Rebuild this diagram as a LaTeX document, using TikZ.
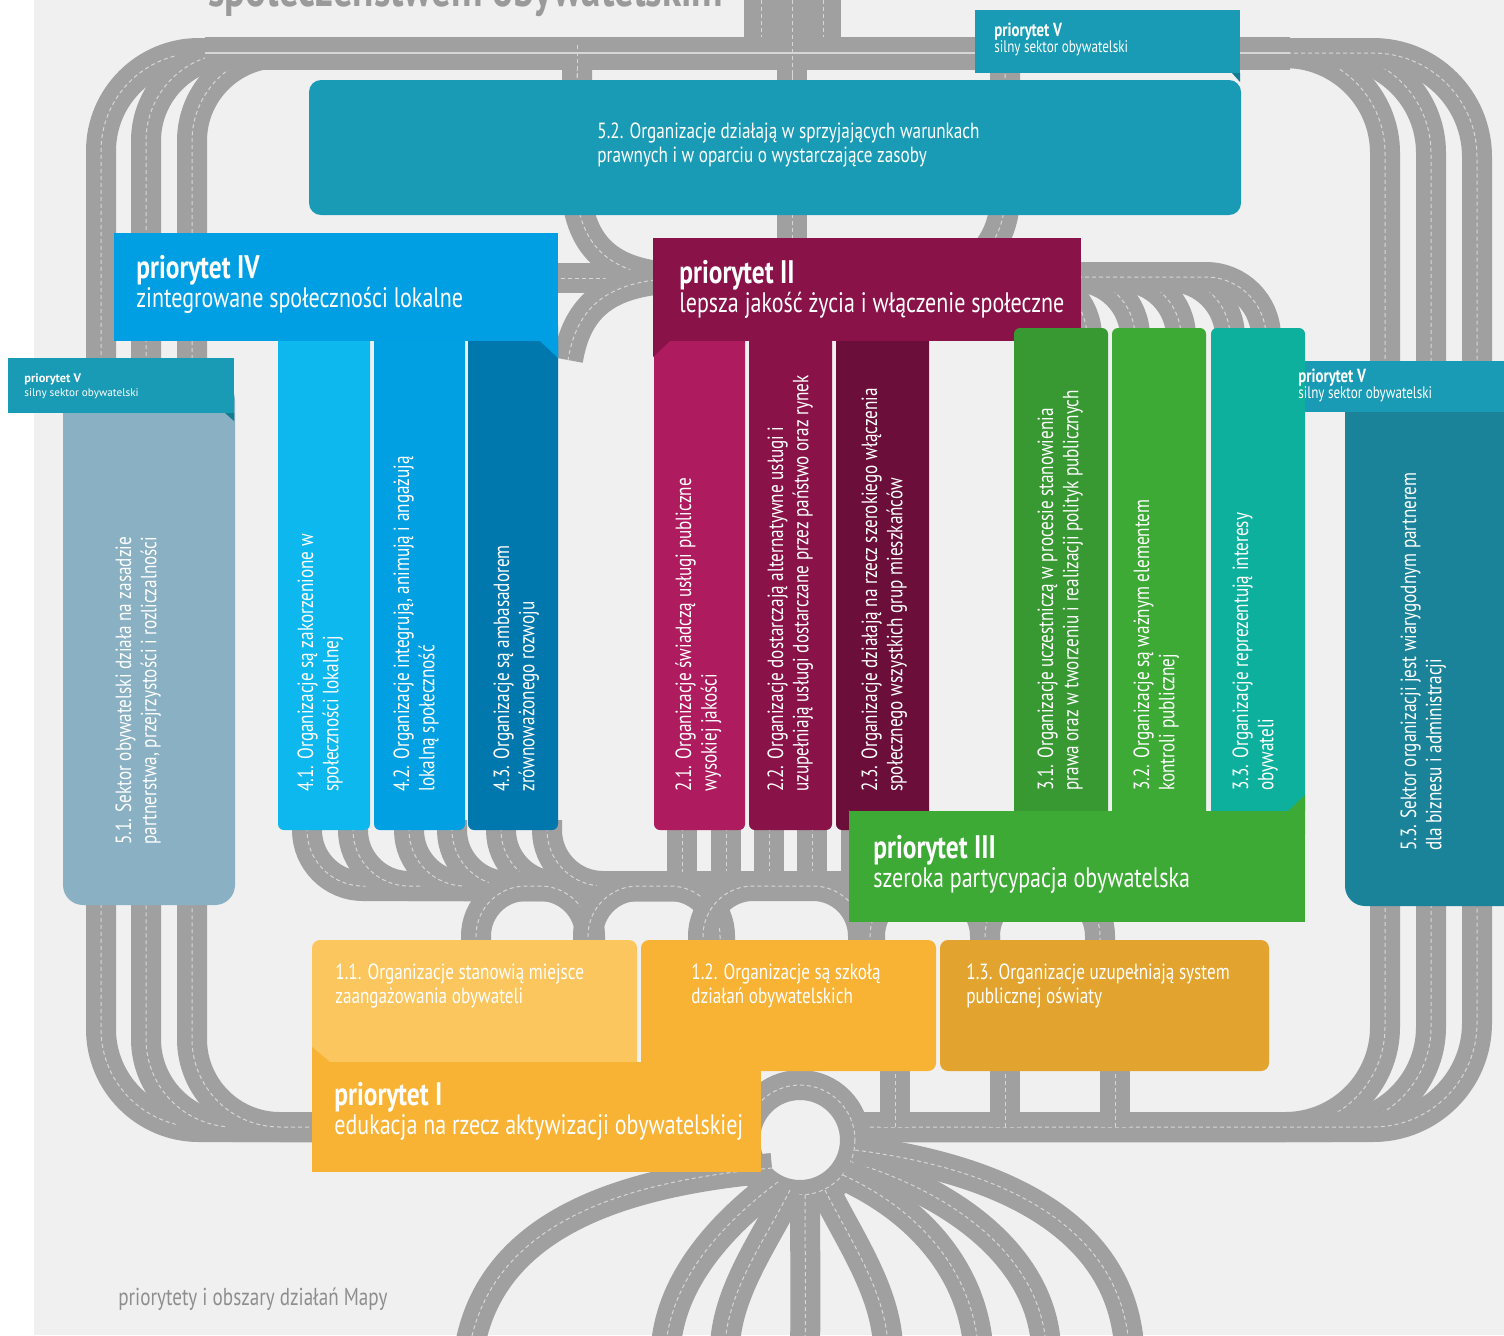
\documentclass[tikz,border=0pt]{standalone}
\usepackage{fontspec}
\setmainfont{PT Sans}[FakeStretch=0.78]
\newfontfamily\widesans{PT Sans}

\definecolor{bggray}{HTML}{F0F0F0}
\definecolor{roadgray}{HTML}{A0A0A0}
\definecolor{laneline}{HTML}{D6D6D6}
\definecolor{titlegray}{HTML}{9A9A9A}
\definecolor{footgray}{HTML}{8E8E8E}
\definecolor{prV}{HTML}{1A9BB5}
\definecolor{prVfold}{HTML}{127C91}
\definecolor{obszarVa}{HTML}{8AB0C3}
\definecolor{obszarVb}{HTML}{1A9BB5}
\definecolor{obszarVc}{HTML}{1A8399}
\definecolor{prIV}{HTML}{009FE3}
\definecolor{obszarIVa}{HTML}{0DB8EE}
\definecolor{obszarIVb}{HTML}{00A0E2}
\definecolor{obszarIVc}{HTML}{0078AE}
\definecolor{prII}{HTML}{891349}
\definecolor{obszarIIa}{HTML}{AE1B5F}
\definecolor{obszarIIb}{HTML}{891349}
\definecolor{obszarIIc}{HTML}{6B0E39}
\definecolor{prIII}{HTML}{3DAA35}
\definecolor{obszarIIIa}{HTML}{389933}
\definecolor{obszarIIIb}{HTML}{3DAA35}
\definecolor{obszarIIIc}{HTML}{0DB09D}
\definecolor{prI}{HTML}{F8B234}
\definecolor{obszarIa}{HTML}{FBC65D}
\definecolor{obszarIb}{HTML}{F8B234}
\definecolor{obszarIc}{HTML}{E2A42F}

\tikzset{
  road/.style={draw=roadgray, line width=15pt},
  lane/.style={draw=laneline, line width=0.5pt, dash pattern=on 2pt off 1.5pt},
  hdrtext/.style={text=white, align=left, inner sep=0pt, font=\fontsize{14.1}{14.5}\selectfont},
  boxtext/.style={text=white, align=left, inner sep=0pt, font=\fontsize{11}{12}\selectfont},
  coltext/.style={text=white, align=left, inner sep=0pt, rotate=90, anchor=north west, font=\fontsize{11}{12.7}\selectfont},
  labeltext/.style={text=white, align=left, inner sep=0pt, font=\fontsize{8.4}{8}\selectfont}
}
\newcommand\roadline[1]{\draw[road] #1; \draw[lane] #1;}
\newcommand\hdrbold[1]{{\fontsize{16.3}{16}\bfseries #1}}
\newcommand\lblbold[1]{{\fontsize{9.5}{8}\bfseries #1}}

\begin{document}
\begin{tikzpicture}[x=0.5pt,y=-0.5pt]
      \useasboundingbox (0,0) rectangle (1504,1335) ;
      \clip (0,0) rectangle (1504,1335) ;
      \fill[bggray] (34,0) rectangle (1504,1335) ;
      \node[anchor=base west, inner sep=0pt, text=titlegray, %
        font=\bfseries\fontsize{25}{25}\selectfont] (tytul) at (208,6) {społeczeństwem obywatelskim} ;
      % roads: ring
      \roadline{[rounded corners=49pt] (330,1127) -- (101,1127) -- (101,53) -- (420,53)}
      \roadline{[rounded corners=44pt] (330,1127) -- (146,1127) -- (146,53) -- (420,53)}
      \roadline{[rounded corners=44pt] (330,1127) -- (192,1127) -- (192,53) -- (420,53)}
      \roadline{[rounded corners=50pt] (1000,53) -- (1385,53) -- (1385,1127) -- (840,1127)}
      \roadline{[rounded corners=50pt] (1000,53) -- (1431,53) -- (1431,1127) -- (840,1127)}
      \roadline{[rounded corners=52pt] (1000,53) -- (1477,53) -- (1477,1127) -- (840,1127)}
      % roads: inside
      \roadline{(470,278) -- (700,278)}
      \roadline{(577,53) -- (577,200) .. controls (585,255) and (620,278) .. (690,278)}
      \roadline{(690,278) .. controls (615,278) and (578,300) .. (568,360)}
      \roadline{(792,53) -- (792,250)}
      \roadline{(1005,53) -- (1005,195) .. controls (1005,235) and (985,262) .. (950,277)}
      \foreach \x in {1041,1087,1135,1181,1230,1266}
        {\roadline{[rounded corners=30pt] (\x,350) -- (\x,277) -- (960,277)}}
      \foreach \x in {307,353,409,452,501,547}
        {\roadline{[rounded corners=28pt] (\x,820) -- (\x,886) -- (720,886)}}
      \foreach \x in {682,726,769,812,856,900}
        {\roadline{(\x,820) -- (\x,886)}}
      \roadline{(700,886) -- (1010,886)}
      \foreach \a/\b in {476/590,588/720,703/863,870/985,985/1100}
        {\roadline{[rounded corners=25pt] (\a,965) -- (\a,886) -- (\b,886) -- (\b,965)}}
      \foreach \x in {895,1005,1115}
        {\roadline{(\x,1060) -- (\x,1127)}}
      % roundabout and roots
      \roadline{(800,1140) circle[radius=55]}
      \roadline{(772,1168) .. controls (640,1180) and (495,1215) .. (470,1345)}
      \roadline{(778,1182) .. controls (720,1225) and (672,1280) .. (666,1345)}
      \roadline{(790,1190) .. controls (765,1240) and (728,1290) .. (725,1345)}
      \roadline{(805,1195) .. controls (805,1250) and (806,1300) .. (805,1345)}
      \roadline{(825,1190) .. controls (850,1240) and (885,1290) .. (888,1345)}
      \roadline{(843,1175) .. controls (930,1215) and (972,1280) .. (978,1345)}
      \roadline{(852,1162) .. controls (960,1195) and (1040,1260) .. (1046,1345)}
      \roadline{(855,1150) .. controls (1010,1170) and (1120,1230) .. (1129,1345)}
      % top band
      \draw[road, line width=16.5pt] (205,53) -- (1290,53) ;
      \draw[laneline, line width=0.6pt] (205,53) -- (1290,53) ;
      \fill[roadgray] (744,0) rectangle (841,45) ;
      \draw[lane] (761,0) -- (761,37) (792,0) -- (792,80) (823,0) -- (823,37) (577,45) -- (577,80) ;
      % priorytet V
      \fill[obszarVa, rounded corners=10pt] (63,380) rectangle (235,905) ;
      \fill[prV] (8,358) rectangle (234,413) ;
      \fill[prVfold] (225,413) -- (234,413) -- (234,421) -- cycle ;
      \fill[obszarVc, rounded corners=10pt] (1345,380) rectangle (1545,906) ;
      \fill[prV] (1282,361) rectangle (1504,412) ;
      \fill[obszarVb, rounded corners=6pt] (309,80) rectangle (1241,215) ;
      \fill[prV] (975,10) rectangle (1240,73) ;
      \fill[prVfold] (1232,73) -- (1240,73) -- (1240,82) -- cycle ;
      % priorytet IV
      \fill[obszarIVa, rounded corners=3pt] (278,320) rectangle (370,830) ;
      \fill[obszarIVb, rounded corners=3pt] (374,320) rectangle (465,830) ;
      \fill[obszarIVc, rounded corners=3pt] (468,320) rectangle (558,830) ;
      \fill[prIV] (114,233) rectangle (558,341) ;
      \fill[prIV] (540,341) -- (558,341) -- (558,358) -- cycle ;
      % priorytet II
      \fill[obszarIIa, rounded corners=3pt] (654,320) rectangle (745,830) ;
      \fill[obszarIIb, rounded corners=3pt] (749,320) rectangle (832,830) ;
      \fill[obszarIIc, rounded corners=3pt] (836,320) rectangle (929,830) ;
      \fill[prII] (653,238) rectangle (1081,341) ;
      \fill[prII] (653,341) -- (670,341) -- (653,357) -- cycle ;
      % priorytet III
      \fill[obszarIIIa, rounded corners=3pt] (1014,328) rectangle (1108,840) ;
      \fill[obszarIIIb, rounded corners=3pt] (1112,328) rectangle (1206,840) ;
      \fill[obszarIIIc, rounded corners=3pt] (1211,328) rectangle (1305,840) ;
      \fill[prIII] (849,811) rectangle (1305,922) ;
      \fill[prIII] (1288,811) -- (1305,811) -- (1305,795) -- cycle ;
      % priorytet I
      \fill[obszarIa, rounded corners=4pt] (312,940) rectangle (637,1075) ;
      \fill[obszarIb, rounded corners=4pt] (641,940) rectangle (936,1071) ;
      \fill[obszarIc, rounded corners=4pt] (940,940) rectangle (1269,1071) ;
      \fill[prI] (312,1062) rectangle (761,1172) ;
      \fill[prI] (312,1047) -- (330,1062) -- (312,1062) -- cycle ;
      % texts
      \node[labeltext, anchor=north west] (lV) at (994,23) {\lblbold{priorytet V}\\silny sektor obywatelski} ;
      \node[labeltext, anchor=north west] (lVr) at (1298,369) {\lblbold{priorytet V}\\silny sektor obywatelski} ;
      \node[labeltext, anchor=north west, font=\widesans\fontsize{5.6}{7}\selectfont] %
        (lVl) at (24,373) {{\fontsize{6.2}{7}\bfseries priorytet V}\\silny sektor obywatelski} ;
      \node[boxtext, anchor=north west] (o52) at (597,122) {5.2. Organizacje działają w sprzyjających warunkach\\prawnych i w oparciu o wystarczające zasoby} ;
      \node[hdrtext, anchor=west] (pIV) at (136,284) {\hdrbold{priorytet IV}\\zintegrowane społeczności lokalne} ;
      \node[hdrtext, anchor=west] (pII) at (679,289) {\hdrbold{priorytet II}\\lepsza jakość życia i włączenie społeczne} ;
      \node[hdrtext, anchor=west] (pIII) at (873,864) {\hdrbold{priorytet III}\\szeroka partycypacja obywatelska} ;
      \node[hdrtext, anchor=west] (pI) at (334,1111) {\hdrbold{priorytet I}\\edukacja na rzecz aktywizacji obywatelskiej} ;
      \node[coltext] (o51) at (115,845) {5.1. Sektor obywatelski działa na zasadzie\\partnerstwa, przejrzystości i rozliczalności} ;
      \node[coltext] (o41) at (297,792) {4.1. Organizacje są zakorzenione w\\społeczności lokalnej} ;
      \node[coltext] (o42) at (393,792) {4.2. Organizacje integrują, animują i angażują\\lokalną społeczność} ;
      \node[coltext] (o43) at (493,792) {4.3. Organizacje są ambasadorem\\zrównoważonego rozwoju} ;
      \node[coltext] (o21) at (675,792) {2.1. Organizacje świadczą usługi publiczne\\wysokiej jakości} ;
      \node[coltext] (o22) at (767,792) {2.2. Organizacje dostarczają alternatywne usługi i\\uzupełniają usługi dostarczane przez państwo oraz rynek} ;
      \node[coltext] (o23) at (861,792) {2.3. Organizacje działają na rzecz szerokiego włączenia\\społecznego wszystkich grup mieszkańców} ;
      \node[coltext] (o31) at (1037,791) {3.1. Organizacje uczestniczą w procesie stanowienia\\prawa oraz w tworzeniu i realizacji polityk publicznych} ;
      \node[coltext] (o32) at (1133,791) {3.2. Organizacje są ważnym elementem\\kontroli publicznej} ;
      \node[coltext] (o33) at (1232,791) {3.3. Organizacje reprezentują interesy\\obywateli} ;
      \node[coltext] (o53) at (1400,851) {5.3. Sektor organizacji jest wiarygodnym partnerem\\dla biznesu i administracji} ;
      \node[boxtext, anchor=north west] (o11) at (335,963) {1.1. Organizacje stanowią miejsce\\zaangażowania obywateli} ;
      \node[boxtext, anchor=north west] (o12) at (691,963) {1.2. Organizacje są szkołą\\działań obywatelskich} ;
      \node[boxtext, anchor=north west] (o13) at (966,963) {1.3. Organizacje uzupełniają system\\publicznej oświaty} ;
      \node[anchor=base west, inner sep=0pt, text=footgray, font=\fontsize{12.25}{13}\selectfont] %
        (stopka) at (118,1305) {priorytety i obszary działań Mapy} ;
    \end{tikzpicture}
\end{document}
